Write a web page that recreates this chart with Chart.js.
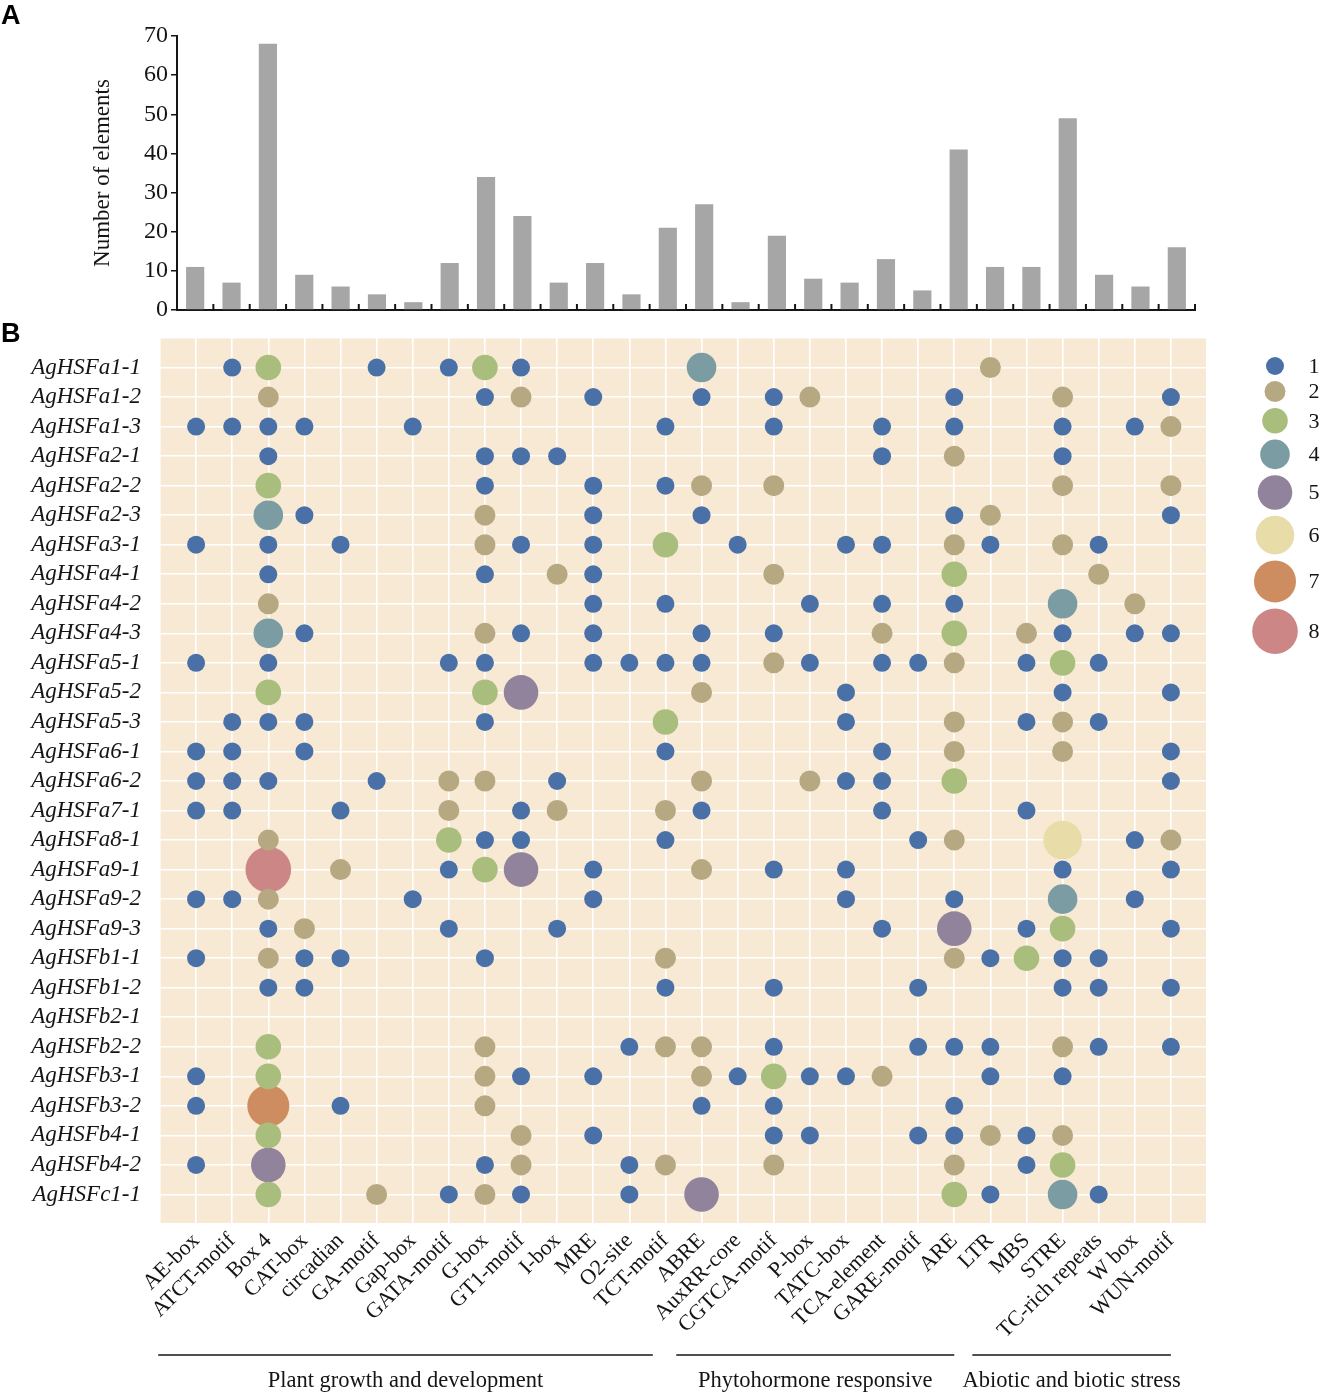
<!DOCTYPE html>
<html>
<head>
<meta charset="utf-8">
<script src="https://cdn.jsdelivr.net/npm/chart.js@4.4.1/dist/chart.umd.min.js"></script>
<style>
  html, body { margin: 0; padding: 0; background: #fff; }
  #page { position: relative; width: 1322px; height: 1393px; overflow: hidden; }
  canvas { position: absolute; left: 0; }
  #barCanvas { top: 0; }
  #dotCanvas { top: 298px; }
  .panel { position: absolute; left: 1px; font: bold 27px "Liberation Sans", Arial, sans-serif; color: #000; }
</style>
</head>
<body>
<div id="page">
  <canvas id="dotCanvas" width="1322" height="1095"></canvas>
  <canvas id="barCanvas" width="1322" height="330"></canvas>
  <div class="panel" style="top:0px;">A</div>
  <div class="panel" style="top:318px;">B</div>
</div>
<script>
// cis-acting elements (x axis)
const elements = ["AE-box", "ATCT-motif", "Box 4", "CAT-box", "circadian", "GA-motif", "Gap-box",
  "GATA-motif", "G-box", "GT1-motif", "I-box", "MRE", "O2-site", "TCT-motif", "ABRE", "AuxRR-core",
  "CGTCA-motif", "P-box", "TATC-box", "TCA-element", "GARE-motif", "ARE", "LTR", "MBS", "STRE",
  "TC-rich repeats", "W box", "WUN-motif"];

// panel A: number of elements
const elementTotals = [11, 7, 68, 9, 6, 4, 2, 12, 34, 24, 7, 12, 4, 21, 27, 2, 19, 8, 7, 13, 5, 41, 11, 11, 49, 9, 6, 16];
const barTicks = [0, 10, 20, 30, 40, 50, 60, 70];

// panel B: genes (rows)
const genes = ["AgHSFa1-1", "AgHSFa1-2", "AgHSFa1-3", "AgHSFa2-1", "AgHSFa2-2", "AgHSFa2-3", "AgHSFa3-1",
  "AgHSFa4-1", "AgHSFa4-2", "AgHSFa4-3", "AgHSFa5-1", "AgHSFa5-2", "AgHSFa5-3", "AgHSFa6-1", "AgHSFa6-2",
  "AgHSFa7-1", "AgHSFa8-1", "AgHSFa9-1", "AgHSFa9-2", "AgHSFa9-3", "AgHSFb1-1", "AgHSFb1-2", "AgHSFb2-1",
  "AgHSFb2-2", "AgHSFb3-1", "AgHSFb3-2", "AgHSFb4-1", "AgHSFb4-2", "AgHSFc1-1"];

// count of each element per gene, same column order as elements
const geneCounts = [
  [0,1,3,0,0,1,0,1,3,1,0,0,0,0,4,0,0,0,0,0,0,0,2,0,0,0,0,0],
  [0,0,2,0,0,0,0,0,1,2,0,1,0,0,1,0,1,2,0,0,0,1,0,0,2,0,0,1],
  [1,1,1,1,0,0,1,0,0,0,0,0,0,1,0,0,1,0,0,1,0,1,0,0,1,0,1,2],
  [0,0,1,0,0,0,0,0,1,1,1,0,0,0,0,0,0,0,0,1,0,2,0,0,1,0,0,0],
  [0,0,3,0,0,0,0,0,1,0,0,1,0,1,2,0,2,0,0,0,0,0,0,0,2,0,0,2],
  [0,0,4,1,0,0,0,0,2,0,0,1,0,0,1,0,0,0,0,0,0,1,2,0,0,0,0,1],
  [1,0,1,0,1,0,0,0,2,1,0,1,0,3,0,1,0,0,1,1,0,2,1,0,2,1,0,0],
  [0,0,1,0,0,0,0,0,1,0,2,1,0,0,0,0,2,0,0,0,0,3,0,0,0,2,0,0],
  [0,0,2,0,0,0,0,0,0,0,0,1,0,1,0,0,0,1,0,1,0,1,0,0,4,0,2,0],
  [0,0,4,1,0,0,0,0,2,1,0,1,0,0,1,0,1,0,0,2,0,3,0,2,1,0,1,1],
  [1,0,1,0,0,0,0,1,1,0,0,1,1,1,1,0,2,1,0,1,1,2,0,1,3,1,0,0],
  [0,0,3,0,0,0,0,0,3,5,0,0,0,0,2,0,0,0,1,0,0,0,0,0,1,0,0,1],
  [0,1,1,1,0,0,0,0,1,0,0,0,0,3,0,0,0,0,1,0,0,2,0,1,2,1,0,0],
  [1,1,0,1,0,0,0,0,0,0,0,0,0,1,0,0,0,0,0,1,0,2,0,0,2,0,0,1],
  [1,1,1,0,0,1,0,2,2,0,1,0,0,0,2,0,0,2,1,1,0,3,0,0,0,0,0,1],
  [1,1,0,0,1,0,0,2,0,1,2,0,0,2,1,0,0,0,0,1,0,0,0,1,0,0,0,0],
  [0,0,2,0,0,0,0,3,1,1,0,0,0,1,0,0,0,0,0,0,1,2,0,0,6,0,1,2],
  [0,0,8,0,2,0,0,1,3,5,0,1,0,0,2,0,1,0,1,0,0,0,0,0,1,0,0,1],
  [1,1,2,0,0,0,1,0,0,0,0,1,0,0,0,0,0,0,1,0,0,1,0,0,4,0,1,0],
  [0,0,1,2,0,0,0,1,0,0,1,0,0,0,0,0,0,0,0,1,0,5,0,1,3,0,0,1],
  [1,0,2,1,1,0,0,0,1,0,0,0,0,2,0,0,0,0,0,0,0,2,1,3,1,1,0,0],
  [0,0,1,1,0,0,0,0,0,0,0,0,0,1,0,0,1,0,0,0,1,0,0,0,1,1,0,1],
  [0,0,0,0,0,0,0,0,0,0,0,0,0,0,0,0,0,0,0,0,0,0,0,0,0,0,0,0],
  [0,0,3,0,0,0,0,0,2,0,0,0,1,2,2,0,1,0,0,0,1,1,1,0,2,1,0,1],
  [1,0,3,0,0,0,0,0,2,1,0,1,0,0,2,1,3,1,1,2,0,0,1,0,1,0,0,0],
  [1,0,7,0,1,0,0,0,2,0,0,0,0,0,1,0,1,0,0,0,0,1,0,0,0,0,0,0],
  [0,0,3,0,0,0,0,0,0,2,0,1,0,0,0,0,1,1,0,0,1,1,2,1,2,0,0,0],
  [1,0,5,0,0,0,0,0,1,2,0,0,1,2,0,0,2,0,0,0,0,2,0,1,3,0,0,0],
  [0,0,3,0,0,2,0,1,2,1,0,0,1,0,5,0,0,0,0,0,0,3,1,0,4,1,0,0]
];

// count levels shown in the legend
const levels = [1, 2, 3, 4, 5, 6, 7, 8];

// element groups under the x axis
const groupNames = ["Plant growth and development", "Phytohormone responsive", "Abiotic and biotic stress"];
const groupFirst = [0, 14, 22];
const groupLast = [13, 21, 27];

// styles
const levelColors = ["#4a70a8", "#b6a982", "#a9be7d", "#7a9ca2", "#91839c", "#e8dca8", "#cd8d60", "#cc8686"];
const levelRadius = [9, 10.5, 12.8, 14.8, 17.3, 19.3, 21, 22.8];
const serif = "'Liberation Serif', 'Times New Roman', serif";
const ink = "#151515";

Chart.defaults.font.family = serif;
Chart.defaults.color = ink;

/**
 * panel A
 */
// small ticks pointing up between bars
const innerTicks = {
  id: "innerTicks",
  afterDraw(chart) {
    const ctx = chart.ctx;
    const xs = chart.scales.x;
    const n = elements.length;
    const step = (xs.right - xs.left) / n;
    ctx.save();
    ctx.strokeStyle = ink;
    ctx.lineWidth = 2;
    for (let i = 1; i <= n; i++) {
      const x = xs.left + i * step;
      ctx.beginPath();
      ctx.moveTo(x, xs.top);
      ctx.lineTo(x, xs.top - 6);
      ctx.stroke();
    }
    ctx.restore();
  }
};

new Chart(document.getElementById("barCanvas"), {
  type: "bar",
  data: {
    labels: elements,
    datasets: [{
      data: elementTotals,
      backgroundColor: "#a6a6a6",
      barPercentage: 0.5,
      categoryPercentage: 1
    }]
  },
  options: {
    responsive: false,
    animation: false,
    layout: { padding: { top: 36, right: 127, left: 0, bottom: 0 } },
    plugins: { legend: { display: false }, tooltip: { enabled: false } },
    scales: {
      x: {
        ticks: { display: false },
        grid: { display: false },
        border: { color: ink, width: 2 },
        afterFit(axis) { axis.height = 20; }
      },
      y: {
        min: 0,
        max: 70,
        afterBuildTicks(axis) { axis.ticks = barTicks.map(v => ({ value: v })); },
        ticks: { font: { size: 24 }, color: ink, padding: 3 },
        grid: { drawOnChartArea: false, color: ink, tickLength: 6, lineWidth: 1.5 },
        border: { color: ink, width: 2 },
        title: { display: true, text: "Number of elements", font: { size: 23 }, color: ink, padding: { top: 89 } },
        afterFit(axis) { axis.width = 177; }
      }
    }
  },
  plugins: [innerTicks]
});

/**
 * panel B
 */
function bubblesFor(level) {
  const pts = [];
  geneCounts.forEach((row, gi) => {
    row.forEach((v, ei) => {
      if (v === level) pts.push({ x: ei, y: gi, r: levelRadius[level - 1] });
    });
  });
  return pts;
}

const plotBg = {
  id: "plotBg",
  beforeDraw(chart) {
    const { ctx, chartArea: a } = chart;
    ctx.save();
    ctx.fillStyle = "#f7e9d3";
    ctx.fillRect(a.left, a.top, a.right - a.left, a.bottom - a.top);
    ctx.restore();
  }
};

// group lines and names under the rotated labels
const groupBars = {
  id: "groupBars",
  afterDraw(chart) {
    const { ctx, chartArea: a } = chart;
    const xs = chart.scales.x;
    const extL = [1.05, 0.7, 0.5];
    const extR = [-0.35, 0, 0];
    ctx.save();
    ctx.strokeStyle = ink;
    ctx.lineWidth = 1.6;
    ctx.fillStyle = ink;
    ctx.font = "22.5px " + serif;
    ctx.textAlign = "center";
    ctx.textBaseline = "middle";
    groupNames.forEach((name, i) => {
      const x1 = xs.getPixelForValue(groupFirst[i] - extL[i]);
      const x2 = xs.getPixelForValue(groupLast[i] + extR[i]);
      ctx.beginPath();
      ctx.moveTo(x1, a.bottom + 131);
      ctx.lineTo(x2, a.bottom + 131);
      ctx.stroke();
      ctx.fillText(name, (x1 + x2) / 2, a.bottom + 157);
    });
    ctx.restore();
  }
};

// size legend on the right
const sizeLegend = {
  id: "sizeLegend",
  afterDraw(chart) {
    const { ctx, chartArea: a } = chart;
    const cx = a.right + 68;
    let y = a.top + 28;
    ctx.save();
    ctx.font = "22px " + serif;
    ctx.textAlign = "center";
    ctx.textBaseline = "middle";
    levels.forEach((lv, i) => {
      if (i > 0) y += levelRadius[i - 1] + levelRadius[i] + 6;
      ctx.beginPath();
      ctx.fillStyle = levelColors[i];
      ctx.arc(cx, y, levelRadius[i], 0, Math.PI * 2);
      ctx.fill();
      ctx.fillStyle = ink;
      ctx.fillText(String(lv), a.right + 107, y + 1);
    });
    ctx.restore();
  }
};

new Chart(document.getElementById("dotCanvas"), {
  type: "bubble",
  data: {
    datasets: levels.map((lv, i) => ({
      label: String(lv),
      data: bubblesFor(lv),
      backgroundColor: levelColors[i],
      borderWidth: 0,
      hoverBorderWidth: 0
    }))
  },
  options: {
    responsive: false,
    animation: false,
    layout: { padding: { top: 40, right: 115, left: 0, bottom: 0 } },
    plugins: { legend: { display: false }, tooltip: { enabled: false } },
    scales: {
      x: {
        type: "linear",
        min: -1,
        max: elements.length,
        ticks: {
          stepSize: 1,
          autoSkip: false,
          maxRotation: 45,
          minRotation: 45,
          padding: 4,
          font: { size: 22 },
          color: ink,
          callback: v => elements[v] ?? ""
        },
        grid: { color: "#ffffff", lineWidth: 1.6, drawTicks: false },
        border: { display: false },
        afterFit(axis) { axis.height = 169; }
      },
      y: {
        type: "linear",
        reverse: true,
        min: -1,
        max: genes.length,
        ticks: {
          stepSize: 1,
          autoSkip: false,
          padding: 19,
          font: { size: 23, style: "italic" },
          color: ink,
          callback: v => genes[v] ?? ""
        },
        grid: { color: "#ffffff", lineWidth: 1.6, drawTicks: false },
        border: { display: false },
        afterFit(axis) { axis.width = 160; }
      }
    }
  },
  plugins: [plotBg, groupBars, sizeLegend]
});
</script>
</body>
</html>
